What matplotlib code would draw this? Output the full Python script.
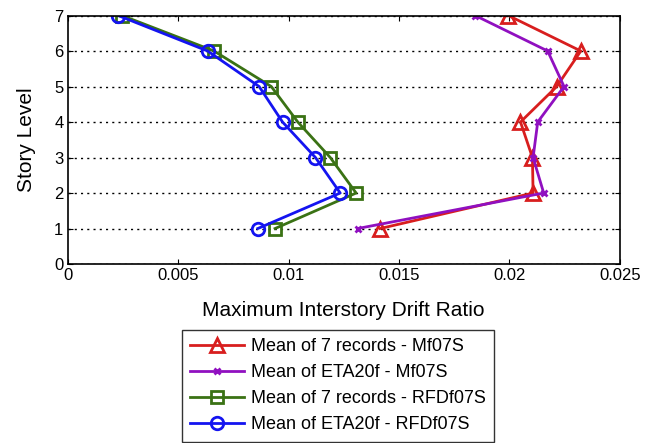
import numpy as np
import matplotlib.pyplot as plt

plt.rcParams['font.family'] = ['Liberation Sans', 'DejaVu Sans']

story = [1, 2, 3, 4, 5, 6, 7]
mean7_mf = [0.01415, 0.02107, 0.02104, 0.0205, 0.02214, 0.02323, 0.01995]
eta_mf = [0.01313, 0.02155, 0.02107, 0.02128, 0.02247, 0.02173, 0.01845]
mean7_rfd = [0.00939, 0.01306, 0.01189, 0.01042, 0.00922, 0.00663, 0.00246]
eta_rfd = [0.00861, 0.01234, 0.01122, 0.00973, 0.00867, 0.00634, 0.00229]

labels = ['Mean of 7 records - Mf07S', 'Mean of ETA20f - Mf07S',
          'Mean of 7 records - RFDf07S', 'Mean of ETA20f - RFDf07S']

fig = plt.figure(figsize=(6.56, 4.43), dpi=100)
ax = fig.add_axes([0.103, 0.404, 0.842, 0.561])

ax.plot(mean7_mf, story, color='#d81e1e', lw=2, marker='^', ms=10,
        mfc='none', mew=2, label=labels[0])
ax.plot(eta_mf, story, color='#9010c0', lw=2, marker='x', ms=4,
        mew=2, label=labels[1])
ax.plot(mean7_rfd, story, color='#3a7214', lw=2, marker='s', ms=9,
        mfc='none', mew=2, label=labels[2])
ax.plot(eta_rfd, story, color='#1414f0', lw=2, marker='o', ms=9,
        mfc='none', mew=2, label=labels[3])

ax.set_xlim(0, 0.025)
ax.set_ylim(0, 7)
ax.set_xticks([0, 0.005, 0.01, 0.015, 0.02, 0.025])
ax.set_xticklabels(['0', '0.005', '0.01', '0.015', '0.02', '0.025'])
ax.set_yticks(range(8))
ax.yaxis.grid(True, color='k', linestyle=(0, (1.5, 3)), lw=1)
ax.tick_params(direction='in', top=True, right=True, labelsize=12, pad=3)
ax.set_xlabel('Maximum Interstory Drift Ratio', fontsize=15, labelpad=13)
ax.set_ylabel('Story Level', fontsize=15, labelpad=13)
for s in ax.spines.values():
    s.set_linewidth(1.2)

leg = fig.legend(loc='center', bbox_to_anchor=(0.515, 0.129), fontsize=13,
                 fancybox=False, edgecolor='k', handlelength=3.0,
                 borderpad=0.45, labelspacing=0.5, handletextpad=0.4)
leg.get_frame().set_linewidth(1)

fig.savefig('out.png', dpi=100)
